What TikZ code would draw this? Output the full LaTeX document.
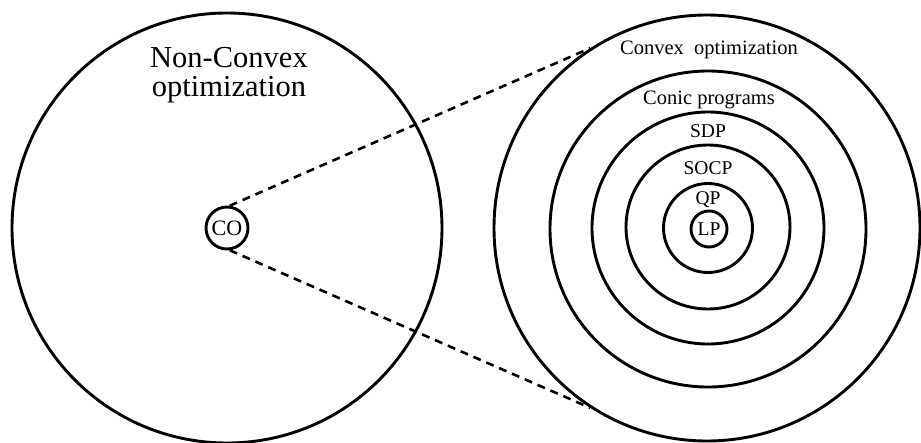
\documentclass[tikz,border=0pt]{standalone}
\usepackage{fontspec}
\setmainfont{Liberation Serif}
\usetikzlibrary{positioning}
\tikzset{
    ring/.style={
        circle,
        draw,
        line width=2.9pt,
        inner sep=0pt
    },
    zoomline/.style={
        line width=2.6pt,
        dash pattern=on 8pt off 6pt
    },
    lbl/.style={
        anchor=base,
        inner sep=0pt,
        font=\fontsize{19.5}{19.5}\selectfont
    },
    title/.style={
        anchor=base,
        inner sep=0pt,
        font=\fontsize{30.5}{30.5}\selectfont
    }
}

\begin{document}
\begin{tikzpicture}[x=1pt, y=-1pt]

    \useasboundingbox (0,0) rectangle (921,442);

    % Non-convex region
    \node[ring, minimum size=430pt] (ncvx) at (227,228) {};
    \node[ring, minimum size=42pt, font=\fontsize{22}{22}\selectfont] (co) at (227,228) {CO};
    \node[title] (ncvxlbl) at (229,67) {Non-Convex};
    \node[title] (optlbl) at (229,96) {optimization};

    % Convex classes
    \node[ring, minimum size=426pt] (cvx) at (707,228) {};
    \node[ring, minimum size=316pt] (conic) at (708,229) {};
    \node[ring, minimum size=232pt] (sdp) at (708,228) {};
    \node[ring, minimum size=164pt] (socp) at (708,227) {};
    \node[ring, minimum size=89pt] (qp) at (708,228) {};
    \node[ring, minimum size=36pt, font=\fontsize{19.5}{19.5}\selectfont] (lp) at (709,229) {LP};

    \node[lbl, font=\fontsize{20.5}{20.5}\selectfont] (cvxlbl) at (709,54) {Convex~~optimization};
    \node[lbl, font=\fontsize{20.5}{20.5}\selectfont] (coniclbl) at (709,104) {Conic programs};
    \node[lbl] (sdplbl) at (708,137) {SDP};
    \node[lbl] (socplbl) at (708,174) {SOCP};
    \node[lbl] (qplbl) at (708,204) {QP};

    % Zoom lines
    \draw[zoomline] (co.83) -- (cvx.123.5);
    \draw[zoomline] (co.-83) -- (cvx.-123.5);

\end{tikzpicture}
\end{document}
